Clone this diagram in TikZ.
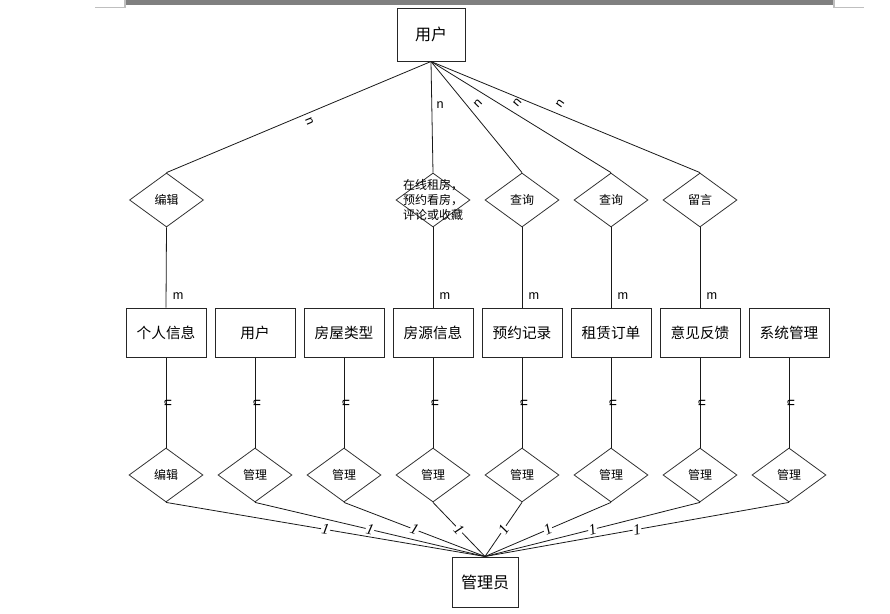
\documentclass[tikz,border=0pt]{standalone}
\usepackage{fontspec}
\setmainfont{Liberation Sans}
\newfontfamily\cjk{Noto Sans CJK SC}
\newfontfamily\lserif{Liberation Serif}
\usetikzlibrary{shapes.geometric}
\begin{document}
\begin{tikzpicture}[x=0.75pt,y=-0.75pt,
  line width=0.75pt,
  ent/.style={draw=black!85, rectangle, minimum width=60pt, minimum height=36.75pt, inner sep=0pt, font=\cjk\fontsize{11}{13}\selectfont},
  rel/.style={draw=black!80, diamond, minimum width=55.5pt, minimum height=40.5pt, inner sep=0pt, line width=0.6pt},
  rtxt/.style={font=\cjk\fontsize{9}{11}\selectfont, inner sep=0pt},
  conn/.style={draw=black!90, line width=0.6pt},
  card/.style={font=\fontsize{9.5}{10}\selectfont, inner sep=0.5pt},
  one/.style={font=\lserif\itshape\fontsize{11.5}{11}\selectfont, fill=white, inner sep=0.4pt, sloped}
]
\useasboundingbox (0,0) rectangle (890,614);
% top border decoration
\fill[black!50] (125,0) rectangle (834,4.5);
\draw[black!25, line width=0.9pt] (95,7.5) -- (125,7.5) -- (125,0);
\draw[black!25, line width=0.9pt] (834,0) -- (834,7.5) -- (864,7.5);

% top user
\node[ent, minimum width=51pt, minimum height=39.75pt, font=\cjk\fontsize{12}{14}\selectfont] (u) at (431,34.5) {用户};
% admin
\node[ent, minimum width=49.5pt, minimum height=37.5pt, font=\cjk\fontsize{12}{14}\selectfont] (adm) at (485,582) {管理员};

% entities
\node[ent] (e1) at (166,332.5) {个人信息};
\node[ent] (e2) at (255,332.5) {用户};
\node[ent] (e3) at (344,332.5) {房屋类型};
\node[ent] (e4) at (433,332.5) {房源信息};
\node[ent] (e5) at (522,332.5) {预约记录};
\node[ent] (e6) at (611,332.5) {租赁订单};
\node[ent] (e7) at (700,332.5) {意见反馈};
\node[ent] (e8) at (789,332.5) {系统管理};

% top relations
\node[rel] (t1) at (166.5,200) {};
\node[rtxt] at (t1) {编辑};
\node[rel] (t4) at (433,200) {};
\node[rtxt, align=center, font=\cjk\fontsize{9}{11}\selectfont] at (t4) {在线租房，\\预约看房，\\评论或收藏};
\node[rel] (t5) at (522,200) {};
\node[rtxt] at (t5) {查询};
\node[rel] (t6) at (611,200) {};
\node[rtxt] at (t6) {查询};
\node[rel] (t7) at (700,200) {};
\node[rtxt] at (t7) {留言};

% bottom relations
\node[rel] (b1) at (166,475) {};
\node[rtxt] at (b1) {编辑};
\foreach \i/\x in {2/255,3/344,4/433,5/522,6/611,7/700,8/789}{
  \node[rel] (b\i) at (\x,475) {};
  \node[rtxt] at (b\i) {管理};
}

% user -> top relations
\draw[conn] (u.south) -- node[card, pos=0.46, yshift=-6.4pt, rotate=-67] {n} (t1.north);
\draw[conn] (u.south) -- node[card, pos=0.39, xshift=6.2pt] {n} (t4.north);
\draw[conn] (u.south) -- node[card, pos=0.38, xshift=9.3pt, rotate=45] {n} (t5.north);
\draw[conn] (u.south) -- node[card, pos=0.48, yshift=8.8pt, rotate=50] {n} (t6.north);
\draw[conn] (u.south) -- node[card, pos=0.48, yshift=8.1pt, rotate=55] {n} (t7.north);

% top relations -> entities
\foreach \i in {1,4,5,6,7}{
  \draw[conn] (t\i.south) -- node[card, pos=0.86, xshift=9pt] {m} (e\i.north);
}

% entities -> bottom relations
\foreach \i in {1,...,8}{
  \draw[conn] (e\i.south) -- node[card, pos=0.5, rotate=90, yshift=-1.5pt] {n} (b\i.north);
}

% bottom relations -> admin
\foreach \i in {1,...,8}{
  \draw[conn] (b\i.south) -- node[one, pos=0.5] {1} (adm.north);
}
\end{tikzpicture}
\end{document}
